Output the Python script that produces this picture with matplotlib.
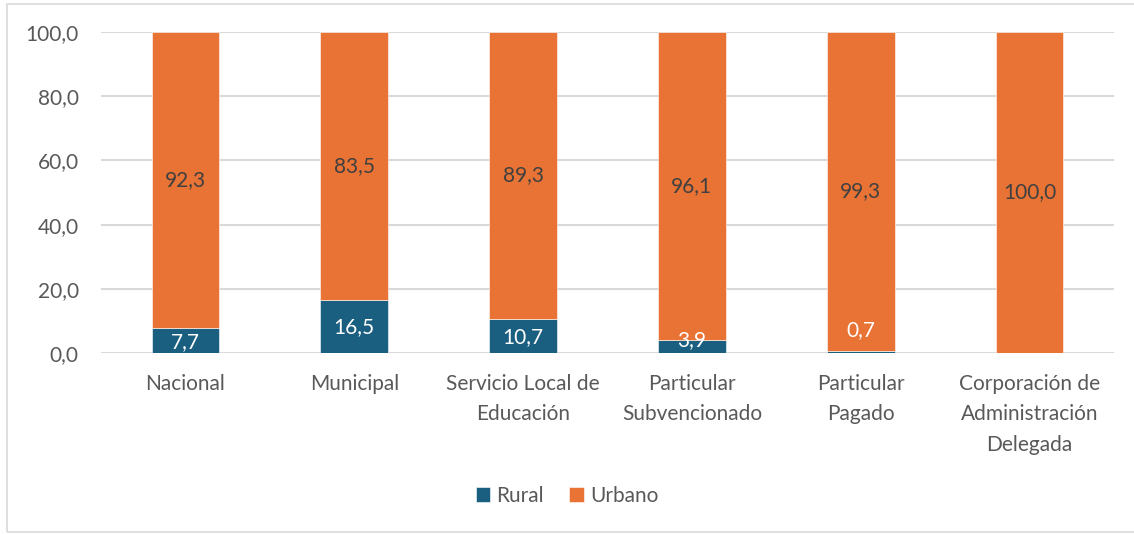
import matplotlib
matplotlib.use("Agg")
import matplotlib.pyplot as plt
from matplotlib.patches import Rectangle
import numpy as np


categories = [
    "Nacional",
    "Municipal",
    "Servicio Local de\nEducación",
    "Particular\nSubvencionado",
    "Particular\nPagado",
    "Corporación de\nAdministración\nDelegada",
]
rural = [7.7, 16.5, 10.7, 3.9, 0.7, 0.0]
urbano = [92.3, 83.5, 89.3, 96.1, 99.3, 100.0]
y_ticks = [0, 20, 40, 60, 80, 100]

RURAL_COLOR = "#1A5E80"
URBANO_COLOR = "#E97334"
TEXT_GRAY = "#595959"
GRID_GRAY = "#D9D9D9"
FS = 15

plt.rcParams["font.family"] = ["Lato", "DejaVu Sans"]


def fmt(v: float) -> str:
    return f"{v:.1f}".replace(".", ",")


fig = plt.figure(figsize=(11.34, 5.34), dpi=100)
ax = fig.add_axes([101 / 1134, 1 - 353 / 534, 1013 / 1134, 321 / 534])

x = np.arange(len(categories))
w = 0.40
ax.bar(x, rural, w, color=RURAL_COLOR, label="Rural", zorder=3, edgecolor="white", linewidth=0.4)
ax.bar(x, urbano, w, bottom=rural, color=URBANO_COLOR, label="Urbano", zorder=3,
       edgecolor="white", linewidth=0.4)

# excel nudges labels of thin segments upward
label_y_override = {3: 4.0, 4: 7.2}
for i, (r, u) in enumerate(zip(rural, urbano)):
    if r > 0:
        y = label_y_override.get(i, r / 2 - 0.3)
        ax.text(x[i], y, fmt(r), ha="center", va="center", color="white", fontsize=FS, zorder=4)
    ax.text(x[i], r + u / 2, fmt(u), ha="center", va="center", color="#404040", fontsize=FS, zorder=4)

ax.set_xlim(-0.5, len(categories) - 0.5)
ax.set_ylim(0, 100)
ax.set_yticks(y_ticks)
ax.set_yticklabels([fmt(t) for t in y_ticks], color=TEXT_GRAY, fontsize=FS)
ax.set_xticks(x)
ax.set_xticklabels(categories, color=TEXT_GRAY, fontsize=FS, linespacing=1.65)
ax.tick_params(axis="both", length=0)
ax.tick_params(axis="y", pad=16)
ax.tick_params(axis="x", pad=15)
ax.grid(axis="y", color=GRID_GRAY, linewidth=1.5, zorder=0)
ax.set_axisbelow(True)
for s in ax.spines.values():
    s.set_visible(False)

leg = fig.legend(loc="center", bbox_to_anchor=(0.5, 1 - 496 / 534), ncol=2, frameon=False,
                 fontsize=FS, handlelength=0.7, handleheight=0.7, handletextpad=0.3,
                 columnspacing=1.2)
for t in leg.get_texts():
    t.set_color(TEXT_GRAY)

fig.patches.append(Rectangle((7 / 1134, 2 / 534), 1.0, 1 - 6 / 534, transform=fig.transFigure,
                             fill=False, edgecolor=GRID_GRAY, linewidth=1.2))

fig.savefig("out.png", dpi=100, facecolor="white")
